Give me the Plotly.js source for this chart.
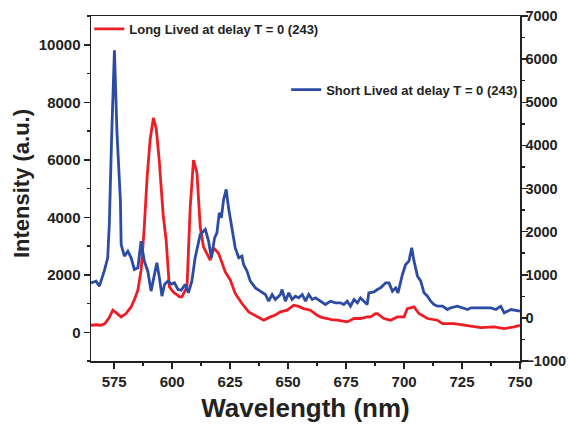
<!DOCTYPE html>
<html>
<head>
<meta charset="utf-8">
<script src="https://cdn.plot.ly/plotly-3.0.1.min.js"></script>
<style>
html,body{margin:0;padding:0;background:#fff;}
#chart{width:569px;height:427px;}
</style>
</head>
<body>
<div id="chart"></div>
<script>
// Long Lived (left axis)
const longWl = [565.0,567.2,569.3,571.0,572.8,574.4,575.8,578.0,580.1,582.3,583.8,585.2,586.6,587.9,589.2,590.5,591.9,593.1,594.4,595.2,596.1,597.4,598.8,600.0,601.0,602.2,603.2,604.2,605.2,606.4,607.8,609.2,610.7,612.1,613.5,615.7,616.4,617.9,620.0,622.9,625.1,627.2,630.1,633.0,635.9,638.0,639.5,642.4,644.5,646.7,649.6,652.4,654.5,656.7,659.6,662.5,664.4,666.9,668.7,671.2,673.0,675.5,678.4,681.2,684.1,685.6,687.7,688.5,691.3,694.2,697.1,700.0,701.4,704.3,706.4,710.1,714.4,716.6,721.6,727.4,733.1,738.9,743.2,747.5,750.0];
const longVal = [244,260,244,300,500,767,680,533,650,880,1150,1463,2160,3550,5400,6700,7455,7100,6000,4950,4100,3200,1580,1450,1360,1300,1230,1230,1400,1580,4366,5990,5540,3670,2970,2625,2510,2930,2750,2100,1810,1350,1000,705,590,478,418,534,600,707,766,940,900,824,766,592,520,478,440,418,400,360,478,478,534,534,650,650,478,418,534,534,824,882,650,478,418,302,302,244,163,186,128,186,244];

// Short Lived (right axis)
const shortWl = [565.0,567.2,568.6,570.7,572.2,572.9,573.9,575.1,576.2,577.7,578.0,579.4,580.9,582.3,583.7,585.2,586.6,588.0,589.5,590.9,592.4,593.4,594.5,595.6,596.7,598.1,599.6,601.0,602.5,603.9,605.6,607.0,608.5,609.9,612.1,614.3,615.7,616.9,618.3,619.3,620.3,621.2,622.2,623.3,624.3,625.8,627.2,628.7,630.1,630.8,632.3,633.7,635.9,638.0,640.2,641.6,643.1,644.5,646.7,647.4,648.8,650.3,651.7,653.2,654.6,656.1,657.5,658.9,660.4,661.8,664.0,666.1,668.3,670.4,672.6,674.0,675.5,676.9,678.4,679.9,681.2,682.7,684.1,684.8,687.0,688.5,689.9,692.1,693.5,695.0,696.4,697.4,699.3,700.7,702.1,703.3,704.3,705.8,707.2,708.6,710.1,711.5,712.9,714.4,716.6,718.7,720.1,723.0,725.9,727.4,728.8,733.1,737.4,739.6,741.7,743.2,746.1,750.0];
const shortVal = [812,851,735,1083,1392,2170,4200,6204,4300,2700,1703,1431,1547,1392,1123,1160,1780,1315,1083,620,1014,1276,928,503,775,851,782,812,659,640,774,580,851,1392,1934,2050,1780,1392,1856,1972,2436,2320,2747,2979,2552,2088,1624,1392,1431,1239,1083,851,696,619,542,387,542,426,542,658,387,580,426,503,464,542,387,542,426,464,387,310,387,348,348,310,387,271,426,348,464,387,310,580,600,658,696,812,812,619,696,580,1006,1238,1315,1624,1315,967,851,580,503,387,310,271,271,194,232,271,232,194,232,232,232,194,271,116,194,155];

const longName = 'Long Lived at delay T = 0 (243)';
const shortName = 'Short Lived at delay T = 0 (243)';
const xTitle = 'Wavelength (nm)';
const yTitle = 'Intensity (a.u.)';

const FAM = '"Liberation Sans", Arial, sans-serif';
const RED = '#ee1d25';
const BLUE = '#2c4ba3';

const traces = [
  {x: longWl, y: longVal, type: 'scatter', mode: 'lines', name: longName,
   line: {color: RED, width: 2.8}, yaxis: 'y', legend: 'legend'},
  {x: shortWl, y: shortVal, type: 'scatter', mode: 'lines', name: shortName,
   line: {color: BLUE, width: 2.8}, yaxis: 'y2', legend: 'legend2'}
];

const tickFont = {family: FAM, size: 15, color: '#222', weight: 'bold'};
const tickFontR = {family: FAM, size: 14.5, color: '#222', weight: 'bold'};
const legFont = {family: FAM, size: 13, color: '#222', weight: 'bold'};

const layout = {
  width: 569, height: 427,
  margin: {l: 91, r: 49, t: 16, b: 66},
  paper_bgcolor: '#fff', plot_bgcolor: '#fff',
  showlegend: true,
  xaxis: {
    range: [565, 750], dtick: 25, tick0: 575,
    ticks: 'outside', ticklen: 6, tickwidth: 1.5, tickcolor: '#222',
    minor: {ticks: 'outside', ticklen: 3, tickwidth: 1.5, tickcolor: '#222', dtick: 12.5, tick0: 575},
    showline: true, linecolor: '#222', linewidth: 1.5, mirror: true,
    showgrid: false, zeroline: false,
    tickfont: tickFont,
    title: {text: xTitle, font: {family: FAM, size: 26, color: '#222', weight: 'bold'}, standoff: 10}
  },
  yaxis: {
    range: [-1000, 11000], dtick: 2000, tick0: 0, tickformat: 'd',
    ticks: 'outside', ticklen: 6, tickwidth: 1.5, tickcolor: '#222',
    minor: {ticks: 'outside', ticklen: 3, tickwidth: 1.5, tickcolor: '#222', dtick: 1000, tick0: 0},
    showline: true, linecolor: '#222', linewidth: 1.5,
    showgrid: false, zeroline: false,
    tickfont: tickFont
  },
  yaxis2: {
    overlaying: 'y', side: 'right',
    range: [-1000, 7000], dtick: 1000, tick0: 0, tickformat: 'd',
    ticks: 'outside', ticklen: 6, tickwidth: 1.5, tickcolor: '#222',
    minor: {ticks: 'outside', ticklen: 3, tickwidth: 1.5, tickcolor: '#222', dtick: 500, tick0: 0},
    showline: true, linecolor: '#222', linewidth: 1.5,
    showgrid: false, zeroline: false,
    ticklabelstandoff: -5,
    tickfont: tickFontR
  },
  annotations: [{
    text: yTitle, textangle: -90, showarrow: false,
    xref: 'paper', yref: 'paper', x: -0.163, y: 0.513,
    xanchor: 'center', yanchor: 'middle',
    font: {family: FAM, size: 22, color: '#222', weight: 'bold'}
  }],
  legend: {
    x: -0.004, y: 1.006, xanchor: 'left', yanchor: 'top',
    bgcolor: 'rgba(0,0,0,0)', borderwidth: 0, font: legFont
  },
  legend2: {
    x: 0.455, y: 0.83, xanchor: 'left', yanchor: 'top',
    bgcolor: 'rgba(0,0,0,0)', borderwidth: 0, font: legFont
  }
};

Plotly.newPlot('chart', traces, layout, {displayModeBar: false, staticPlot: true});
</script>
</body>
</html>
